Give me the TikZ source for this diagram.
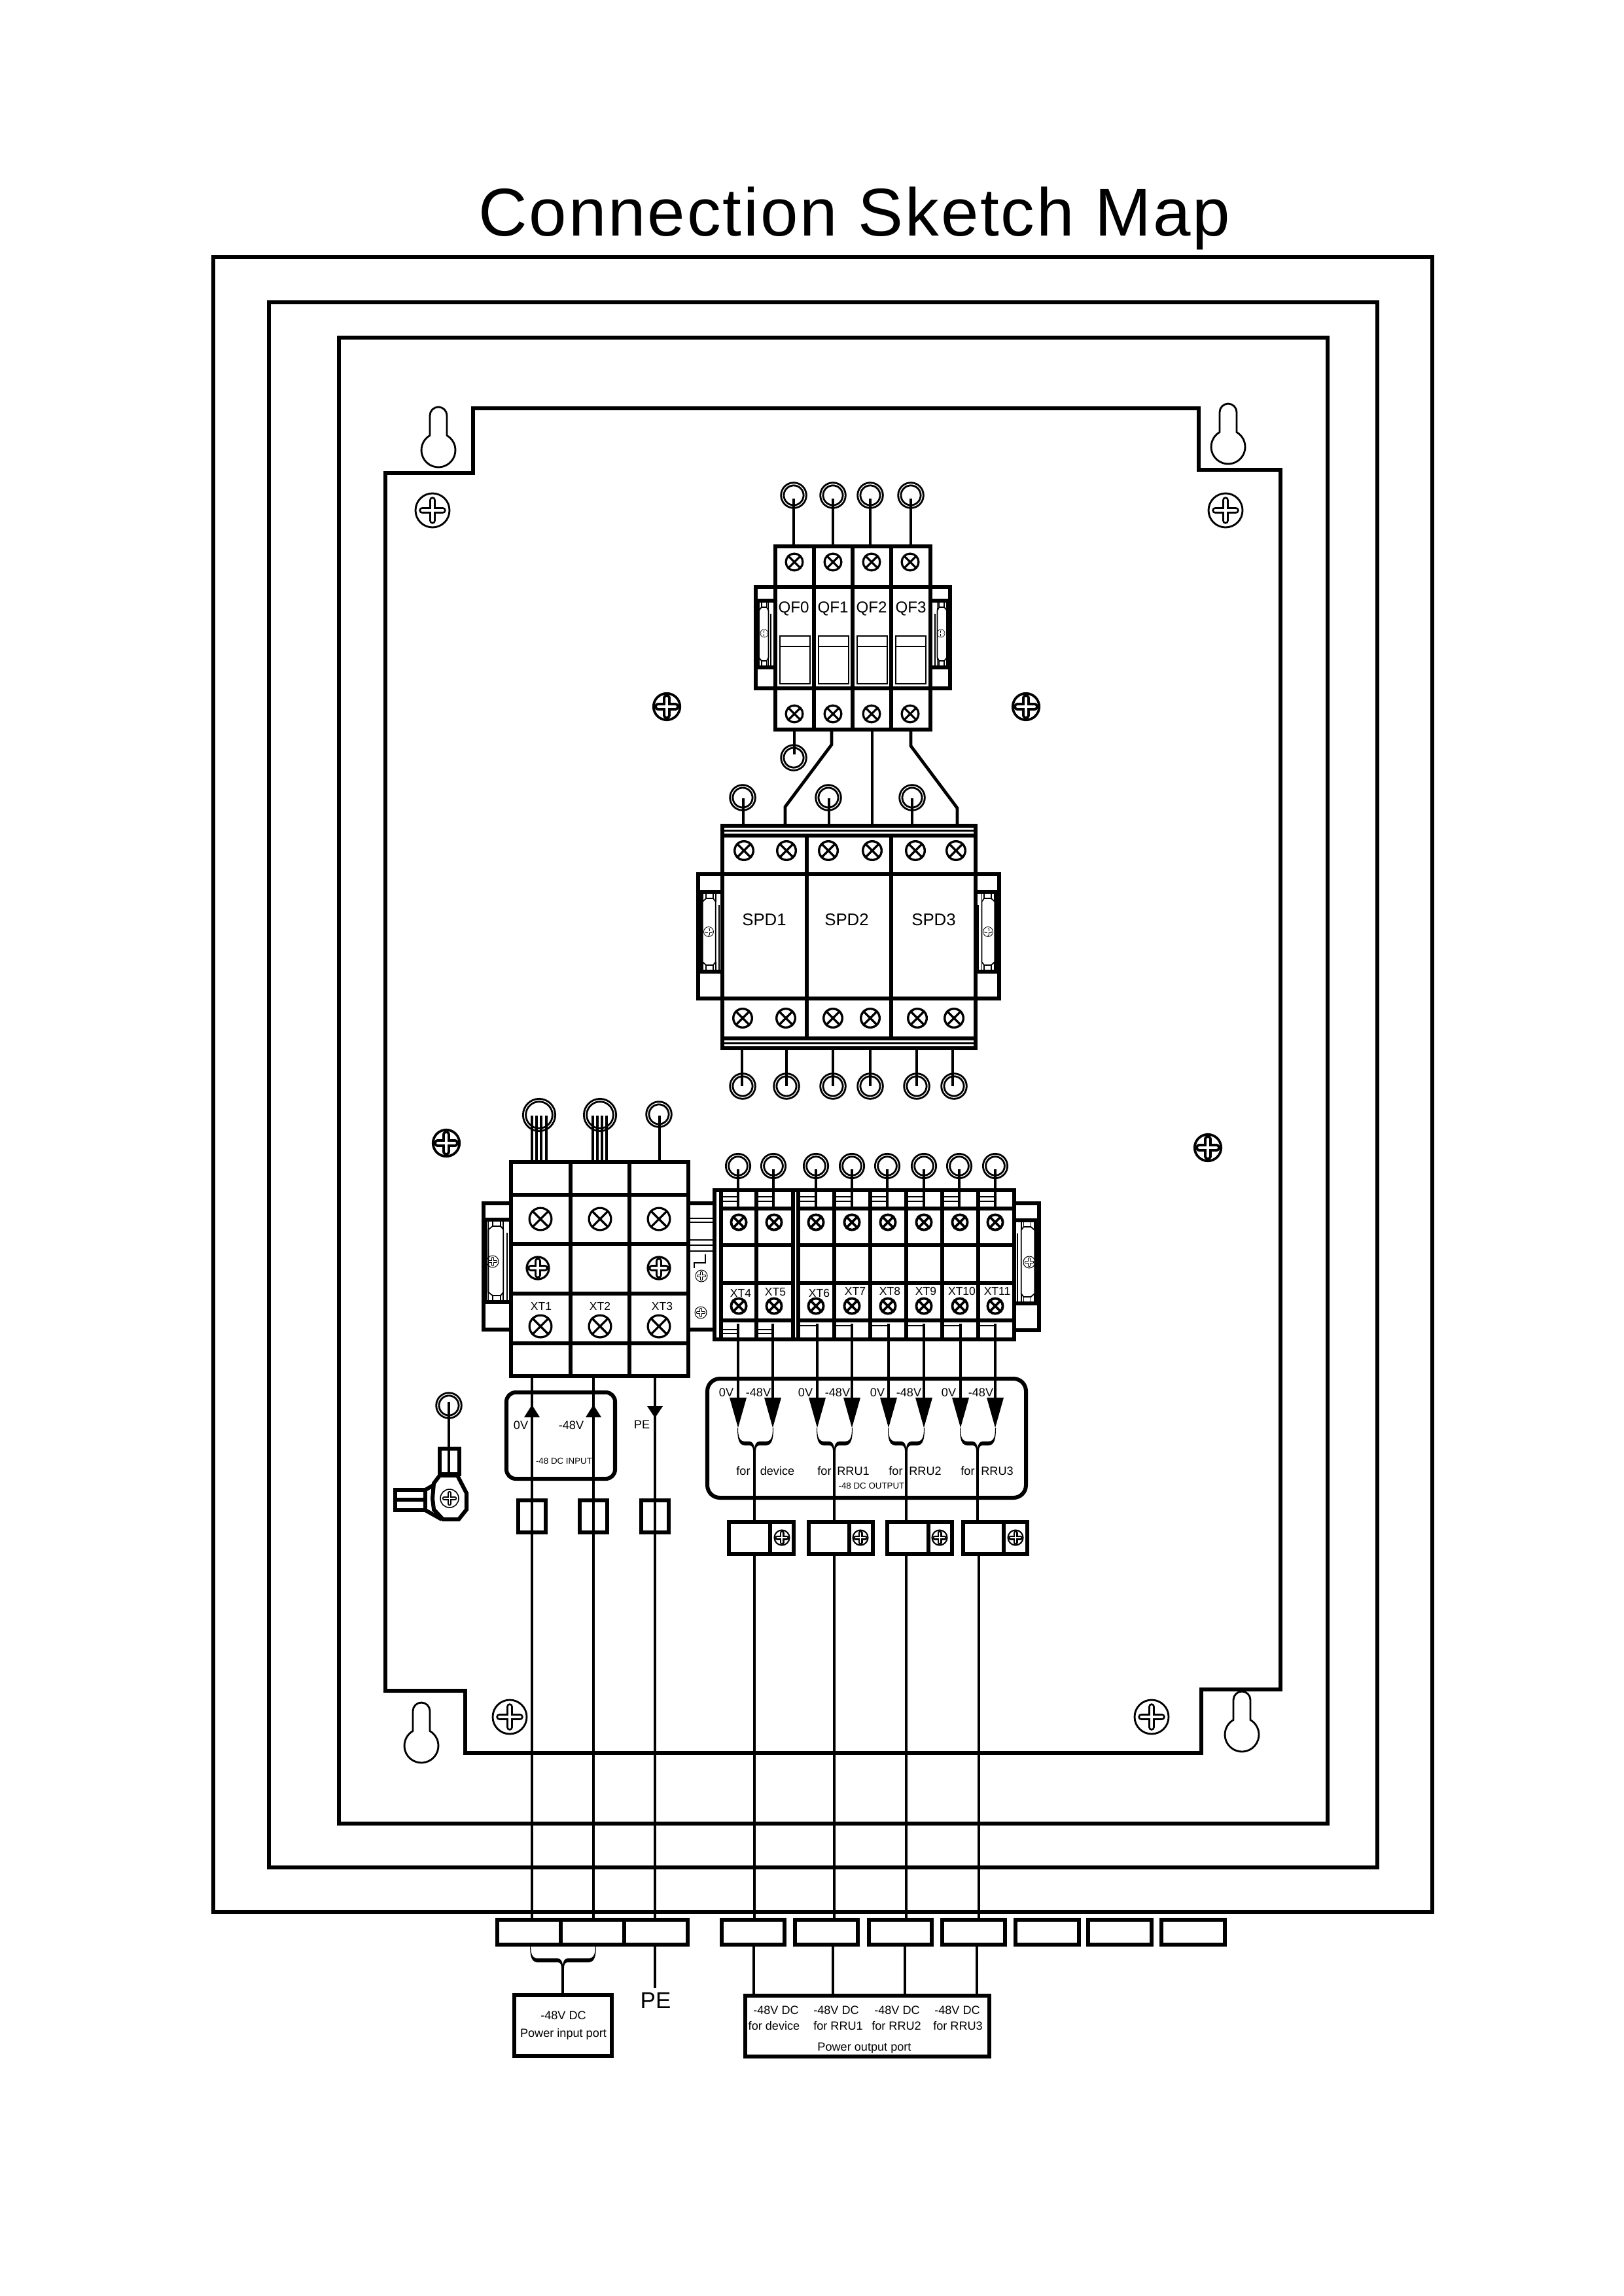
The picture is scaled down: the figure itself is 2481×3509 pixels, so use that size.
\documentclass[tikz,border=0pt]{standalone}
\usepackage{fontspec}
\setmainfont{Liberation Sans}
\newcommand\fs[1]{\fontsize{#1}{#1}\selectfont}
\tikzset{
  bold/.style={line width=1.45pt},
  wire/.style={line width=1.14pt},
  med/.style={line width=.66pt},
  fine/.style={line width=.36pt},
  lbl/.style={inner sep=0pt,font=\fs{4.35}},
  lblxt/.style={inner sep=0pt,font=\fs{4.2}},
  lblqf/.style={inner sep=0pt,font=\fs{5.8}},
  lblspd/.style={inner sep=0pt,font=\fs{6.2}},
  lblsm/.style={inner sep=0pt,font=\fs{3.2}},
}
% double ring
\newcommand\ringm[3]{%
  \draw[line width=1.7pt] (#1,#2) circle[radius=#3-3.5];
  \draw[white,line width=.3pt] (#1,#2) circle[radius=#3-3.5];}
% cross-head screw
\newcommand\xscrew[4]{%
  \draw[line width=#4*.24pt] (#1,#2) circle[radius=#3-#4/2];
  \draw[line width=#4*.24pt] (#1-.7*#3,#2-.7*#3) -- (#1+.7*#3,#2+.7*#3)
     (#1-.7*#3,#2+.7*#3) -- (#1+.7*#3,#2-.7*#3);}
% phillips screw, fine
\newcommand\pscrew[3]{%
  \draw[line width={max(.3,.11*#3)*.24pt}] (#1,#2) circle[radius=#3];
  \draw[line cap=round,line width={.4*#3*.24pt}] (#1-.6*#3,#2) -- (#1+.6*#3,#2) (#1,#2-.6*#3) -- (#1,#2+.6*#3);
  \draw[white,line cap=round,line width={.17*#3*.24pt}] (#1-.6*#3,#2) -- (#1+.6*#3,#2) (#1,#2-.6*#3) -- (#1,#2+.6*#3);}
% phillips screw, heavy
\newcommand\bscrew[3]{%
  \draw[line width={.17*#3*.24pt}] (#1,#2) circle[radius=#3-.08*#3];
  \draw[line cap=round,line width={.56*#3*.24pt}] (#1-.58*#3,#2) -- (#1+.58*#3,#2) (#1,#2-.58*#3) -- (#1,#2+.58*#3);
  \draw[white,line cap=round,line width={.2*#3*.24pt}] (#1-.58*#3,#2) -- (#1+.58*#3,#2) (#1,#2-.58*#3) -- (#1,#2+.58*#3);}
% key hole: x, head centre y
\newcommand\keyh[2]{%
  \draw[line width=.68pt] (#1+13,#2-22.5) arc[start angle=-60,end angle=240,radius=26]
     -- (#1-13,#2-53) arc[start angle=180,end angle=360,radius=13] -- cycle;}
% DIN clip: x of ear edge, direction, y top, y bottom, width
\newcommand\earclip[5]{%
  \draw[line width=2pt] (#1+#2*2,#3) -- (#1+#2*2,#4);
  \begin{scope}[shift={(#1,#3)},xscale=#2]
  \pgfmathsetmacro\H{#4-#3}
  \draw[line width=.42pt] (.18*#5,15) -- (.33*#5,10) -- (.62*#5,10) -- (.72*#5,15) -- (.72*#5,\H-15) -- (.62*#5,\H-10) -- (.33*#5,\H-10) -- (.18*#5,\H-15) -- cycle;
  \draw[line width=.42pt] (.18*#5,2) -- (.18*#5,15) (.33*#5,2) -- (.33*#5,10) (.62*#5,2) -- (.62*#5,10) (.72*#5,2) -- (.72*#5,15)
    (.18*#5,\H-2) -- (.18*#5,\H-15) (.33*#5,\H-2) -- (.33*#5,\H-10) (.62*#5,\H-2) -- (.62*#5,\H-10) (.72*#5,\H-2) -- (.72*#5,\H-15);
  \draw[line width=.42pt] (.86*#5,20) -- (.86*#5,\H-2);
  \end{scope}}
% tapered brace: left, centre, right, y top
\newcommand\brce[4]{%
  \fill (#1,#4) .. controls (#1,#4+14) and (#1+2,#4+20) .. (#1+10,#4+21) -- (#2-8,#4+21)
   .. controls (#2-3,#4+21) and (#2,#4+25) .. (#2,#4+34) .. controls (#2,#4+25) and (#2+3,#4+21) .. (#2+8,#4+21)
   -- (#3-10,#4+21) .. controls (#3-2,#4+20) and (#3,#4+14) .. (#3,#4) -- (#3+1,#4)
   .. controls (#3+1,#4+20) and (#3-2,#4+26) .. (#3-10,#4+27) -- (#2+8,#4+27)
   .. controls (#2+3,#4+27) and (#2+1.5,#4+30) .. (#2+2,#4+42) -- (#2-2,#4+42)
   .. controls (#2-1.5,#4+30) and (#2-3,#4+27) .. (#2-8,#4+27) -- (#1+10,#4+27)
   .. controls (#1+2,#4+26) and (#1-1,#4+20) .. (#1-1,#4) -- cycle;}
% arrow head down: x, tip y
\newcommand\tridown[2]{\fill (#1-13,#2-46) -- (#1+13,#2-46) -- (#1,#2) -- cycle;}
\begin{document}
\begin{tikzpicture}[x=.24pt,y=.24pt,yscale=-1]
\useasboundingbox (0,0) rectangle (2481,3509);
\fill[white] (0,0) rectangle (2481,3509);
% title
\node[inner sep=0pt,anchor=base,font={\fs{24.8}\addfontfeature{LetterSpace=2.8}}] (title) at (1306,361) {Connection Sketch Map};
% frames
\draw[bold] (326,393) rectangle (2189,2922);
\draw[bold] (411,462) rectangle (2105,2854);
\draw[bold] (518,516) rectangle (2029,2787);
% panel
\draw[bold] (589,723) -- (723,723) -- (723,624) -- (1832,624) -- (1832,718) -- (1957,718) -- (1957,2582) -- (1836,2582) -- (1836,2679) -- (711,2679) -- (711,2584) -- (589,2584) -- cycle;
\keyh{670}{688}\keyh{1877}{683}\keyh{644}{2668}\keyh{1898}{2651}
\pscrew{661}{780}{26}\pscrew{1873}{780}{26}\pscrew{779}{2624}{26}\pscrew{1760}{2624}{26}
\bscrew{1019}{1080}{22}\bscrew{1568}{1080}{22}\bscrew{682}{1747}{22}\bscrew{1846}{1754}{22}

% ---------- QF block
\foreach \x in {1213,1273,1330,1392} {\ringm{\x}{757}{20.7}\draw[wire] (\x,762) -- (\x,833);}
\draw[bold] (1185,835) rectangle (1422,1115);
\foreach \x in {1244,1303,1362} \draw[bold] (\x,835) -- (\x,1115);
\draw[bold] (1155,897) -- (1422,897) (1155,1052) -- (1422,1052);
\draw[bold] (1155,897) rectangle (1452,1052);
\foreach \x in {1214,1273,1332,1391} {\xscrew{\x}{859}{14.5}{3.2}\xscrew{\x}{1091}{14.5}{3.2}}
\foreach \x/\n in {1213/QF0,1273/QF1,1332/QF2,1392/QF3} \node[lblqf] (\n) at (\x,930) {\n};
\foreach \a/\b in {1192/1238,1251/1297,1310/1356,1369/1415} {\draw[med] (\a,972) rectangle (\b,1045);\draw[med] (\a,988) -- (\b,988);}
\draw[bold] (1155,918) -- (1182,918) (1155,1020) -- (1182,1020) (1425,918) -- (1452,918) (1425,1020) -- (1452,1020);
\earclip{1155}{1}{918}{1020}{27}
\earclip{1452}{-1}{918}{1020}{27}
\pscrew{1168}{968}{6}\pscrew{1438}{968}{6}
\ringm{1213}{1158}{20.7}
\draw[wire] (1214,1117) -- (1214,1153);
\draw[wire] (1271,1117) -- (1271,1138) -- (1200,1233) -- (1200,1262);
\draw[wire] (1333,1117) -- (1333,1262);
\draw[wire] (1392,1117) -- (1392,1140) -- (1463,1235) -- (1463,1262);

% ---------- SPD block
\foreach \x/\w in {1135/1136,1266/1267,1394/1394} {\ringm{\x}{1219}{20.7}\draw[wire] (\w,1220) -- (\w,1262);}
\draw[bold] (1104,1262) rectangle (1491,1277);
\draw[med] (1104,1269.5) -- (1491,1269.5);
\draw[bold] (1104,1277) rectangle (1491,1587);
\draw[bold] (1104,1587) rectangle (1491,1602);
\draw[med] (1104,1594.5) -- (1491,1594.5);
\draw[bold] (1233,1277) -- (1233,1587) (1362,1277) -- (1362,1587);
\draw[bold] (1067,1336) rectangle (1527,1526);
\draw[bold] (1067,1363) -- (1104,1363) (1067,1485) -- (1104,1485) (1490,1363) -- (1527,1363) (1490,1485) -- (1527,1485);
\earclip{1067}{1}{1363}{1485}{37}
\earclip{1527}{-1}{1363}{1485}{37}
\pscrew{1083}{1424}{7.5}\pscrew{1510}{1424}{7.5}
\foreach \x in {1137,1202,1266,1333,1399,1461} \xscrew{\x}{1300}{16}{3.4};
\foreach \x in {1135,1201,1273,1330,1402,1458} \xscrew{\x}{1556}{16}{3.4};
\node[lblspd] (SPD1) at (1168,1406) {SPD1};
\node[lblspd] (SPD2) at (1294,1406) {SPD2};
\node[lblspd] (SPD3) at (1427,1406) {SPD3};
\foreach \x/\w in {1135/1134,1202/1202,1273/1273,1330/1330,1401/1401,1458/1456} {\ringm{\x}{1660}{20.7}\draw[wire] (\w,1602) -- (\w,1660);}

% ---------- XT1-3 block
\ringm{824}{1704}{26}\ringm{917}{1704}{26}\ringm{1007}{1703}{20.7}
\foreach \x in {813,820,827,835,906,913,920,927} \draw[line width=.85pt] (\x,1705) -- (\x,1776);
\draw[wire] (1008,1705) -- (1008,1776);
\draw[bold] (781,1776) rectangle (1052,2103);
\foreach \x in {872,962} \draw[bold] (\x,1776) -- (\x,2103);
\foreach \y in {1826,1901,1977,2053} \draw[bold] (781,\y) -- (1052,\y);
\foreach \x in {826,917,1007} {\xscrew{\x}{1863}{18.5}{3.2}\xscrew{\x}{2027}{18.5}{3.2}}
\bscrew{822}{1938}{18.5}\bscrew{1007}{1938}{18.5}
\node[lblxt] (XT1) at (827,1996) {XT1};
\node[lblxt] (XT2) at (917,1996) {XT2};
\node[lblxt] (XT3) at (1012,1996) {XT3};
\draw[bold] (781,1839) -- (739,1839) -- (739,2032) -- (781,2032);
\draw[bold] (739,1864) -- (781,1864) (739,1990) -- (781,1990);
\earclip{739}{1}{1864}{1990}{42}
\pscrew{753}{1928}{9}
% rail between blocks
\draw[bold] (1052,1839) -- (1092,1839) (1052,2032) -- (1092,2032);
\foreach \y in {1862,1868,1895,1903,1912} \draw[med] (1052,\y) -- (1092,\y);
\draw[line width=.42pt] (1078,1917) -- (1078,1930) -- (1061,1930) -- (1061,1938);
\pscrew{1072}{1950}{9}\pscrew{1071}{2006}{9}

% ---------- XT4-11 block
\foreach \x in {1128,1182,1247,1302,1356,1412,1466,1521} {\ringm{\x}{1782}{20}\draw[wire] (\x,1787) -- (\x,1847);}
\draw[bold] (1092,1819) rectangle (1550,2047);
\foreach \x in {1102,1156,1212,1220,1275,1330,1385,1440,1495} \draw[bold] (\x,1819) -- (\x,2047);
\foreach \y in {1847,1903,1961,2018} \draw[bold] (1102,\y) -- (1212,\y) (1220,\y) -- (1550,\y);
\foreach \l/\w in {1102/1128,1156/1182,1220/1247,1275/1302,1330/1356,1385/1412,1440/1466,1495/1521} \draw[med] (\l,1829) -- (\w,1829) (\l,1836) -- (\w,1836);
\foreach \l/\w in {1102/1128,1156/1181} \draw[med] (\l,2032) -- (\w,2032) (\l,2038) -- (\w,2038);
\foreach \l/\w in {1220/1249,1275/1302,1330/1358,1385/1412,1440/1467,1495/1521} \draw[med] (\l,2026) -- (\w,2026);
\foreach \x in {1129,1183,1247,1302,1357,1412,1467,1521} {\xscrew{\x}{1868}{13.5}{3.8}\xscrew{\x}{1996}{13.5}{3.8}}
\foreach \x/\y/\n in {1132/1976/XT4,1185/1975/XT5,1252/1976/XT6,1307/1973/XT7,1360/1973/XT8,1415/1973/XT9,1470/1973/XT10,1524/1973/XT11} \node[lblxt] (\n) at (\x,\y) {\n};
\draw[bold] (1550,1839) -- (1588,1839) -- (1588,2033) -- (1550,2033);
\draw[bold] (1550,1865) -- (1588,1865) (1550,1992) -- (1588,1992);
\earclip{1588}{-1}{1865}{1992}{38}
\pscrew{1573}{1929}{9}

% ---------- output group
\draw[bold,rounded corners=4.6pt] (1081,2107) rectangle (1568,2289);
\foreach \a/\b/\c in {1128/1153/1181,1249/1275/1302,1358/1385/1412,1468/1494/1521} {
  \draw[wire] (\a,2023) -- (\a,2150) (\b+0,2214) -- (\b+0,2326);
  \tridown{\a}{2182}
  \brce{\a}{\b}{\c}{2182}
}
\foreach \c in {1181,1302,1412,1521} {\draw[wire] (\c,2023) -- (\c,2150); \tridown{\c}{2182}}
\foreach \x/\n in {1110/a,1231/b,1341/c,1450/d} \node[lbl] (ov\n) at (\x,2128) {0V};
\foreach \x/\n in {1159/a,1280/b,1389/c,1499/d} \node[lbl] (mv\n) at (\x,2128) {-48V};
\foreach \x/\n in {1136/a,1260/b,1369/c,1479/d} \node[lbl] (for\n) at (\x,2248) {for};
\node[lbl] (fdev) at (1188,2248) {device};
\node[lbl] (fr1) at (1304,2248) {RRU1};
\node[lbl] (fr2) at (1414,2248) {RRU2};
\node[lbl] (fr3) at (1524,2248) {RRU3};
\node[lblsm] (dcout) at (1332,2271) {-48 DC OUTPUT};
\foreach \a/\d/\b/\s in {1114/1177/1213/1195,1236/1298/1334/1315,1356/1419/1455/1436,1472/1534/1570/1552} {
  \draw[bold] (\a,2326) rectangle (\b,2375);
  \draw[bold] (\d,2326) -- (\d,2375);
  \bscrew{\s}{2350}{12.5}
}
\foreach \x in {1153,1275,1385,1496} \draw[wire] (\x,2375) -- (\x,2934);

% ---------- input group
\draw[bold,rounded corners=3.4pt] (774,2128) rectangle (940,2260);
\foreach \x in {813,907,1001} \draw[wire] (\x,2103) -- (\x,2934);
\fill (813,2147) -- (825,2166) -- (801,2166) -- cycle;
\fill (907,2147) -- (919,2166) -- (895,2166) -- cycle;
\fill (1001,2167) -- (1013,2149) -- (989,2149) -- cycle;
\node[lbl] (ovin) at (796,2178) {0V};
\node[lbl] (mvin) at (873,2178) {-48V};
\node[lbl] (pein) at (981,2177) {PE};
\node[lblsm] (dcin) at (862,2233) {-48 DC INPUT};
\foreach \a/\b in {792/834,886/928,980/1022} \draw[bold] (\a,2293) rectangle (\b,2342);

% ---------- earth lug
\ringm{686}{2148}{20.7}
\draw[line width=.85pt] (686,2143) -- (686,2253);
\draw[bold] (672,2214) rectangle (702,2253);
\draw[bold] (672,2255) -- (699,2255) -- (713,2282) -- (713,2307) -- (701,2322) -- (677,2322) -- (663,2307) -- (661,2290) -- (663,2267) -- cycle;
\draw[bold] (604,2277) rectangle (650,2308);
\draw[bold] (604,2292) -- (650,2292);
\draw[bold] (650,2277) -- (662,2270) (650,2308) -- (675,2322);
\pscrew{687}{2290}{14}

% ---------- bottom ports
\draw[bold] (760,2934) rectangle (1051,2972);
\draw[bold] (857,2934) -- (857,2972) (954,2934) -- (954,2972);
\foreach \a/\b in {1103/1199,1215/1311,1328/1424,1440/1536,1552/1649,1663/1760,1775/1872} \draw[bold] (\a,2934) rectangle (\b,2972);
\brce{811}{860}{910}{2972}
\draw[wire] (860,3012) -- (860,3049);
\draw[wire] (1001,2972) -- (1001,3038);
\node[inner sep=0pt,font=\fs{8.4}] (pe) at (1002,3057) {PE};
\draw[bold] (786,3049) rectangle (935,3142);
\node[lbl] (inA) at (861,3080) {-48V DC};
\node[lbl] (inB) at (861,3109) {Power input port};
\draw[bold] (1139,3050) rectangle (1512,3143);
\foreach \a/\b in {1152/3050,1273/3050,1383/3050,1493/3050} \draw[wire] (\a,2972) -- (\a,\b);
\foreach \x/\n in {1186/a,1278/b,1371/c,1463/d} \node[lbl] (ou\n) at (\x,3072) {-48V DC};
\node[lbl] (oa) at (1183,3096) {for device};
\node[lbl] (ob) at (1281,3096) {for RRU1};
\node[lbl] (oc) at (1370,3096) {for RRU2};
\node[lbl] (od) at (1464,3096) {for RRU3};
\node[lbl] (oport) at (1321,3130) {Power output port};
\end{tikzpicture}
\end{document}
